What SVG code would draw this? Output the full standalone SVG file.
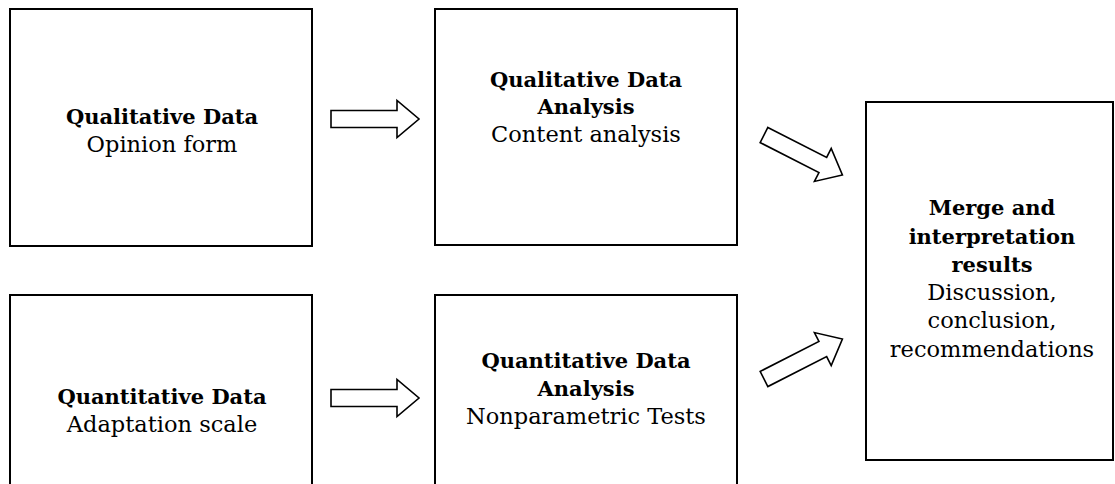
<svg xmlns="http://www.w3.org/2000/svg" width="1115" height="484" viewBox="0 0 1115 484">
<style>
.box{fill:#fff;stroke:#000;stroke-width:2}
.arr{fill:#fff;stroke:#000;stroke-width:1.6;stroke-linejoin:miter}
text{font-family:"DejaVu Serif","Liberation Serif",serif;fill:#000;text-anchor:middle}
.b{font-weight:bold;font-size:21px}
.r{font-size:22.5px}
</style>
<defs>
<path id="arrow" d="M0,-8.5 H66 V-18.5 L88,0 L66,18.5 V8.5 H0 Z"/>
</defs>
<rect width="1115" height="484" fill="#fff"/>
<g id="qual-data">
<rect class="box" x="10" y="9" width="302" height="237"/>
<text x="162" y="124" class="b">Qualitative Data</text>
<text x="162" y="152" class="r">Opinion form</text>
</g>
<g id="qual-analysis">
<rect class="box" x="435" y="9" width="302" height="236"/>
<text x="586" y="87" class="b">Qualitative Data</text>
<text x="586" y="114" class="b">Analysis</text>
<text x="586" y="142" class="r">Content analysis</text>
</g>
<g id="quant-data">
<rect class="box" x="10" y="295" width="302" height="237"/>
<text x="162" y="404" class="b">Quantitative Data</text>
<text x="162" y="432" class="r">Adaptation scale</text>
</g>
<g id="quant-analysis">
<rect class="box" x="435" y="295" width="302" height="237"/>
<text x="586" y="368" class="b">Quantitative Data</text>
<text x="586" y="396" class="b">Analysis</text>
<text x="586" y="424" class="r">Nonparametric Tests</text>
</g>
<g id="merge">
<rect class="box" x="866" y="102" width="247" height="358"/>
<text x="992" y="215" class="b">Merge and</text>
<text x="992" y="244" class="b">interpretation</text>
<text x="992" y="272" class="b">results</text>
<text x="992" y="300" class="r">Discussion,</text>
<text x="992" y="328" class="r">conclusion,</text>
<text x="992" y="357" class="r">recommendations</text>
</g>
<g id="connectors">
<use href="#arrow" class="arr" transform="translate(331,119)"/>
<use href="#arrow" class="arr" transform="translate(331,398)"/>
<use href="#arrow" class="arr" transform="translate(764,135) rotate(27)"/>
<use href="#arrow" class="arr" transform="translate(764,379) rotate(-27)"/>
</g>
</svg>
